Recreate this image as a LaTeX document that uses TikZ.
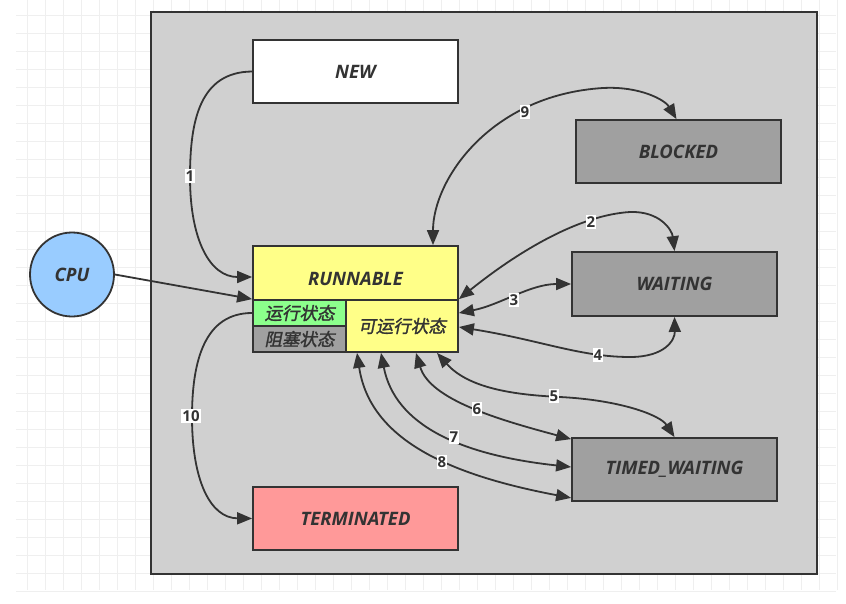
\documentclass[tikz,border=0pt]{standalone}
\usepackage{fontspec}
\setmainfont{Open Sans}
\newfontfamily\cjk[FakeSlant=0.2,FakeBold=1.5]{Noto Sans CJK SC}
\usetikzlibrary{arrows.meta,calc}
\definecolor{ink}{HTML}{333333}
\definecolor{panel}{HTML}{D0D0D0}
\definecolor{stgray}{HTML}{A0A0A0}
\definecolor{styellow}{HTML}{FFFF88}
\definecolor{stgreen}{HTML}{8CFF8C}
\definecolor{stred}{HTML}{FF9999}
\definecolor{stblue}{HTML}{99CCFF}
\definecolor{gridc}{HTML}{EFEFEF}
\begin{document}
\begin{tikzpicture}[x=1pt,y=-1pt,
  box/.style={draw=ink,line width=1.8pt,rectangle,inner sep=0pt,text=ink,font=\fontsize{18.5}{18.5}\selectfont\bfseries\itshape},
  cjkbox/.style={draw=ink,line width=1.8pt,rectangle,inner sep=0pt,text=ink,font=\fontsize{17.5}{17.5}\selectfont\cjk},
  conn/.style={draw=ink,line width=1.8pt},
  tip/.tip={Triangle[length=15pt,width=12pt]},
  one/.style={conn,-tip},
  two/.style={conn,tip-tip},
  lbl/.style={fill=white,inner sep=1.2pt,text=ink,font=\fontsize{15}{15}\selectfont\bfseries}
]
\useasboundingbox (0,0) rectangle (846,603);
\fill[white] (0,0) rectangle (846,603);
% background grid
\foreach \k in {0,...,45} {\draw[gridc,line width=0.8pt] ({27.7+18*\k},0) -- ({27.7+18*\k},590);}
\foreach \k in {0,...,32} {\draw[gridc,line width=0.8pt] (16,{15+18*\k}) -- (836,{15+18*\k});}
% outer panel
\node[draw=ink,fill=panel,line width=1.8pt,rectangle,inner sep=0pt,minimum width=666pt,minimum height=562pt] (panel) at (484,293) {};

% states
\node[box,fill=white,minimum width=205pt,minimum height=63pt] (new) at (355.5,71.5) {NEW};
\node[box,fill=stgray,minimum width=205pt,minimum height=63pt] (blocked) at (678.5,151.5) {BLOCKED};
\node[box,fill=stgray,minimum width=205pt,minimum height=64pt] (wait) at (674.5,284) {WAITING};
\node[box,fill=stgray,minimum width=205pt,minimum height=63pt] (tw) at (674.5,469.5) {TIMED\_WAITING};
\node[box,fill=stred,minimum width=205pt,minimum height=63pt] (term) at (355.5,518.5) {TERMINATED};
\node[box,fill=styellow,minimum width=205pt,minimum height=54pt,text height=24pt,text depth=0pt] (run) at (355.5,273) {RUNNABLE};
\node[cjkbox,fill=stgreen,minimum width=93pt,minimum height=26pt] (runa) at (299.5,313) {运行状态};
\node[cjkbox,fill=stgray,minimum width=93pt,minimum height=26pt] (blk) at (299.5,339) {阻塞状态};
\node[cjkbox,fill=styellow,minimum width=112pt,minimum height=52pt] (runb) at (402,326) {可运行状态};
\node[draw=ink,fill=stblue,line width=1.8pt,circle,minimum size=84pt,inner sep=0pt,text=ink,font=\fontsize{18.5}{18.5}\selectfont\bfseries\itshape] (cpu) at (72,274.5) {CPU};

% connectors
\draw[one] (new.west) .. controls (200,72) and (190,120) .. (190,177) .. controls (190,240) and (210,277) .. ([yshift=-4pt]run.west);
\draw[one] (cpu.east) -- (runa.north west);
\draw[one] (runa.west) .. controls (205,313) and (192,360) .. (192,417) .. controls (192,480) and (210,518) .. (term.west);
\draw[two] ([xshift=77.5pt]run.north) .. controls (433,180) and (490,95) .. (603,88) .. controls (640,86) and (665,100) .. ([xshift=-2pt]blocked.north);
\draw[two] (runb.north east) .. controls (520,250) and (580,215) .. (630,212) .. controls (660,211) and (672,230) .. (wait.north);
\draw[two] ([yshift=13pt]runb.east) .. controls (500,305) and (530,284) .. (wait.west);
\draw[two] ([yshift=-1pt]runb.east) .. controls (540,340) and (580,357) .. (630,357) .. controls (665,357) and (675,340) .. (wait.south);
\draw[two] ([xshift=35pt]runb.south) .. controls (470,390) and (520,395) .. (560,397) .. controls (620,400) and (660,415) .. (tw.north);
\draw[two] ([xshift=14pt]runb.south) .. controls (430,400) and (500,420) .. ([yshift=-2pt]tw.north west);
\draw[two] ([xshift=-21pt]runb.south) .. controls (395,425) and (460,455) .. ([yshift=2.5pt]tw.west);
\draw[two] ([xshift=-45pt]runb.south) .. controls (370,440) and (450,475) .. ([yshift=4pt]tw.south west);

% labels
\node[lbl] (l1) at (190,176) {1};
\node[lbl] (l2) at (591,222) {2};
\node[lbl] (l3) at (514,300) {3};
\node[lbl] (l4) at (598,355) {4};
\node[lbl] (l5) at (554,396) {5};
\node[lbl] (l6) at (477,409) {6};
\node[lbl] (l7) at (454,437) {7};
\node[lbl] (l8) at (442,462) {8};
\node[lbl] (l9) at (525,112) {9};
\node[lbl] (l10) at (191,416) {10};
\end{tikzpicture}
\end{document}
